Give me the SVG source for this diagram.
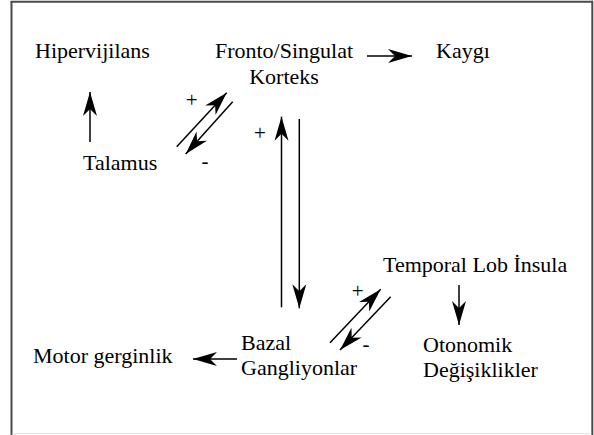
<svg xmlns="http://www.w3.org/2000/svg" width="594" height="435" viewBox="0 0 594 435">
  <style>
    .lbl { font-family: "Liberation Serif", "Times New Roman", serif; font-size: 22px; fill: #000; }
    .sign { font-family: "Liberation Serif", "Times New Roman", serif; font-size: 21px; fill: #000; }
    .edge { stroke: #000; stroke-width: 1.5; fill: none; }
    .arrow { marker-end: url(#head); }
  </style>
  <defs>
    <marker id="head" markerUnits="userSpaceOnUse" markerWidth="30" markerHeight="18" viewBox="-26 -9 30 18" refX="0" refY="0" orient="auto">
      <path d="M0,0 L-24,-7 L-17,0 L-24,7 Z" fill="#000"/>
    </marker>
  </defs>

  <!-- frame -->
  <g id="frame">
    <rect x="0" y="0" width="594" height="435" fill="#fff"/>
    <line x1="11.5" y1="1.7" x2="11.5" y2="435" stroke="#4a4a4a" stroke-width="2"/>
    <line x1="10.5" y1="1.7" x2="593" y2="1.7" stroke="#4a4a4a" stroke-width="2"/>
    <line x1="592.3" y1="0.7" x2="592.3" y2="435" stroke="#4a4a4a" stroke-width="2"/>
    <line x1="12.5" y1="433.5" x2="591.3" y2="433.5" stroke="#e6e6e6" stroke-width="1"/>
  </g>

  <!-- nodes -->
  <g id="hipervijilans"><text class="lbl" x="35" y="58">Hipervijilans</text></g>
  <g id="fronto-singulat-korteks">
    <text class="lbl" x="284" y="58" text-anchor="middle">Fronto/Singulat</text>
    <text class="lbl" x="284" y="84" text-anchor="middle">Korteks</text>
  </g>
  <g id="kaygi"><text class="lbl" x="436" y="58">Kaygı</text></g>
  <g id="talamus"><text class="lbl" x="83" y="170">Talamus</text></g>
  <g id="temporal-lob-insula"><text class="lbl" x="383" y="272">Temporal Lob İnsula</text></g>
  <g id="bazal-gangliyonlar">
    <text class="lbl" x="241" y="350">Bazal</text>
    <text class="lbl" x="241" y="375">Gangliyonlar</text>
  </g>
  <g id="motor-gerginlik"><text class="lbl" x="33" y="363">Motor gerginlik</text></g>
  <g id="otonomik-degisiklikler">
    <text class="lbl" x="423" y="352">Otonomik</text>
    <text class="lbl" x="423" y="377">Değişiklikler</text>
  </g>

  <!-- connectors -->
  <g id="connectors">
    <line class="edge arrow" x1="367" y1="56" x2="412" y2="56"/>
    <line class="edge arrow" x1="90" y1="142" x2="90" y2="92"/>
    <line class="edge arrow" x1="176.7" y1="146.7" x2="226.7" y2="92.7"/>
    <line class="edge arrow" x1="232.7" y1="101.7" x2="185.7" y2="154"/>
    <line class="edge arrow" x1="281.5" y1="307.3" x2="281.5" y2="116.7"/>
    <line class="edge arrow" x1="299.3" y1="119" x2="299.3" y2="308.3"/>
    <line class="edge arrow" x1="330" y1="342.7" x2="380.7" y2="289.3"/>
    <line class="edge arrow" x1="390.7" y1="296.7" x2="340" y2="350"/>
    <line class="edge arrow" x1="459" y1="285" x2="459" y2="325"/>
    <line class="edge arrow" x1="237" y1="359" x2="193" y2="359"/>

    <text class="sign" x="191.7" y="107" text-anchor="middle">+</text>
    <text class="sign" x="205" y="168" text-anchor="middle">-</text>
    <text class="sign" x="260" y="140" text-anchor="middle">+</text>
    <text class="sign" x="357.7" y="297.5" text-anchor="middle">+</text>
    <text class="sign" x="366" y="351" text-anchor="middle">-</text>
  </g>
</svg>
